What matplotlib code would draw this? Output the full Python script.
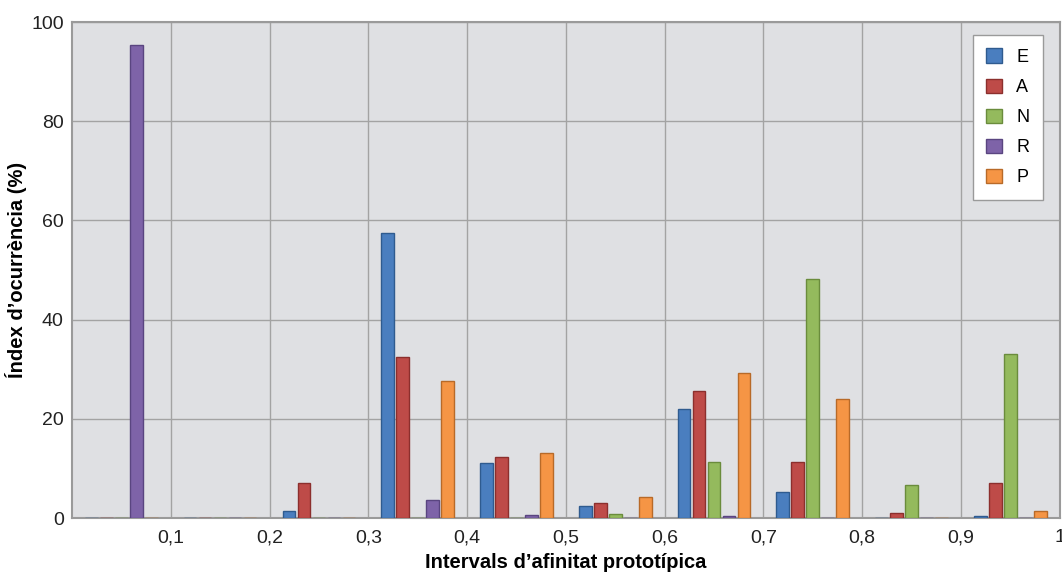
import numpy as np
import matplotlib
matplotlib.use("Agg")
import matplotlib.pyplot as plt

plt.rcParams['font.family'] = ['Liberation Sans', 'DejaVu Sans']

# lower edge of each interval (width 0.1)
intervals = [0.0, 0.1, 0.2, 0.3, 0.4, 0.5, 0.6, 0.7, 0.8, 0.9]
series = ["E", "A", "N", "R", "P"]
E = [0, 0, 1.5, 57.5, 11.0, 2.4, 22.0, 5.3, 0, 0.5]
A = [0, 0, 7.0, 32.5, 12.2, 3.0, 25.6, 11.3, 1.0, 7.0]
N = [0, 0, 0, 0, 0, 0.8, 11.3, 48.2, 6.7, 33.0]
R = [95.3, 0, 0, 3.6, 0.7, 0, 0.5, 0, 0, 0]
P = [0, 0, 0, 27.7, 13.2, 4.3, 29.2, 24.0, 0, 1.5]
values = [E, A, N, R, P]

colors = ["#4A7EBF", "#BE4B48", "#94BA5D", "#7E63A8", "#F59545"]
edges = ["#2F5B8F", "#8C2F2D", "#6A8C3C", "#5A4580", "#B86A28"]
xticks = [0.1, 0.2, 0.3, 0.4, 0.5, 0.6, 0.7, 0.8, 0.9, 1.0]
xticklabels = ["0,1", "0,2", "0,3", "0,4", "0,5", "0,6", "0,7", "0,8", "0,9", "1"]

fig = plt.figure(figsize=(10.62, 5.72), dpi=100)
ax = fig.add_axes([0.0678, 0.0944, 0.930, 0.8671])
ax.set_facecolor("#DFE0E3")

step = 0.0152
width = 0.0128
base = np.array(intervals) + 0.05
for i, (name, vals) in enumerate(zip(series, values)):
    ax.bar(base + (i - 2) * step, vals, width=width, color=colors[i],
           edgecolor=edges[i], linewidth=1.0, label=name, zorder=3)

ax.set_xlim(0, 1)
ax.set_ylim(0, 100)
ax.set_xticks(xticks)
ax.set_xticklabels(xticklabels)
ax.set_yticks([0, 20, 40, 60, 80, 100])
ax.tick_params(length=0, labelsize=14, colors="#222222")
ax.tick_params(axis="x", pad=8)
ax.tick_params(axis="y", pad=6)
ax.grid(True, color="#A3A3A3", linewidth=1.0, zorder=0)
for s in ax.spines.values():
    s.set_color("#9A9A9A")
    s.set_linewidth(1.5)

ax.set_xlabel("Intervals d\u2019afinitat prototípica", fontsize=14.5,
              fontweight="bold", labelpad=5)
ax.set_ylabel("Índex d\u2019ocurrència (%)", fontsize=14.5,
              fontweight="bold", labelpad=3)

leg = ax.legend(loc="upper right", bbox_to_anchor=(0.983, 0.974),
                fontsize=13, frameon=True, fancybox=False,
                handlelength=0.85, handleheight=0.85, labelspacing=0.7,
                borderpad=0.75, handletextpad=0.8, borderaxespad=0)
leg.get_frame().set_edgecolor("#9A9A9A")
leg.get_frame().set_linewidth(1.0)
leg.get_frame().set_alpha(1)

fig.savefig("out.png", dpi=100)
